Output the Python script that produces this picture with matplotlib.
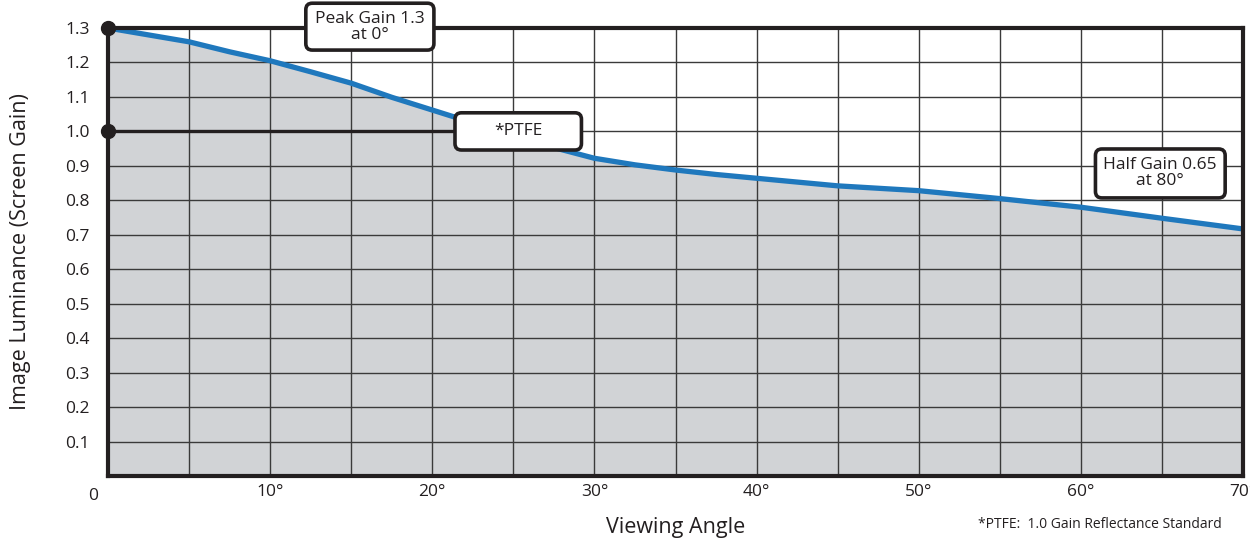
import matplotlib
matplotlib.use("Agg")
import matplotlib.pyplot as plt
from matplotlib.patches import FancyBboxPatch

plt.rcParams['font.family'] = ['Open Sans', 'DejaVu Sans']

# values
angle = [0, 2.5, 5, 7.5, 10, 12.5, 15, 17.5, 20, 22.5, 25, 27.5, 30, 32.5, 35, 37.5,
         40, 45, 50, 55, 60, 65, 70]
gain = [1.30, 1.28, 1.26, 1.231, 1.205, 1.173, 1.14, 1.099, 1.062, 1.025, 0.99, 0.953,
        0.922, 0.903, 0.888, 0.875, 0.864, 0.842, 0.828, 0.805, 0.78, 0.748, 0.717]
x_ticks = [10, 20, 30, 40, 50, 60, 70]
y_ticks = [0.1, 0.2, 0.3, 0.4, 0.5, 0.6, 0.7, 0.8, 0.9, 1.0, 1.1, 1.2, 1.3]

dark = '#231f20'
blue = '#1f78bd'
fill = '#d1d3d6'

fig = plt.figure(figsize=(12.5, 5.39), dpi=100)
ax = fig.add_axes([0.0864, 0.1169, 0.9080, 0.8311])

ax.fill_between(angle, gain, 0, color=fill, zorder=1, linewidth=0)
for v in range(5, 70, 5):
    ax.axvline(v, color='#3a3a3a', lw=1.0, zorder=2)
for v in y_ticks[:-1]:
    ax.axhline(v, color='#3a3a3a', lw=1.0, zorder=2)
ax.plot(angle, gain, color=blue, lw=3.8, zorder=3, solid_capstyle='butt',
        solid_joinstyle='round')

# PTFE reference line + markers
ax.plot([0, 21.5], [1.0, 1.0], color=dark, lw=2.4, zorder=4)
ax.plot([0, 0], [1.3, 1.0], 'o', color=dark, ms=10, zorder=6, clip_on=False)

ax.set_xlim(0, 70)
ax.set_ylim(0, 1.3)
for s in ax.spines.values():
    s.set_color(dark)
    s.set_linewidth(3)
    s.set_zorder(5)

ax.set_xticks(x_ticks)
ax.set_xticklabels([f"{t}\u00b0" for t in x_ticks])
ax.set_yticks(y_ticks)
ax.set_yticklabels([f"{t:.1f}" for t in y_ticks])
ax.tick_params(axis='both', length=0, labelsize=12.5, colors=dark)
ax.tick_params(axis='y', pad=13)
ax.tick_params(axis='x', pad=6)
ax.text(-0.6, -0.035, "0", ha='right', va='top', fontsize=12.5, color=dark)

ax.set_xlabel("Viewing Angle", fontsize=15.5, color=dark, labelpad=12)
ax.set_ylabel("Image Luminance (Screen Gain)", fontsize=15.5, color=dark, labelpad=25)
fig.text(0.977, 0.026, "*PTFE:  1.0 Gain Reflectance Standard", ha='right', va='center',
         fontsize=10, color=dark)

# callout boxes (x0, x1, y0, y1 in data units)
asp = (70 / 1135) / (1.3 / 448)


def callout(x0, x1, y0, y1, label):
    box = FancyBboxPatch((x0, y0), x1 - x0, y1 - y0,
                         boxstyle="round,pad=0,rounding_size=0.4",
                         mutation_aspect=1 / asp,
                         fc='white', ec=dark, lw=2.6, zorder=7, clip_on=False)
    ax.add_patch(box)
    ax.text((x0 + x1) / 2, (y0 + y1) / 2, label, ha='center', va='center',
            fontsize=12.5, color=dark, zorder=8, linespacing=1.0)


callout(12.2, 20.1, 1.236, 1.372, "Peak Gain 1.3\nat 0\u00b0")
callout(21.4, 29.2, 0.946, 1.054, "*PTFE")
callout(60.9, 68.9, 0.807, 0.949, "Half Gain 0.65\nat 80\u00b0")

fig.savefig("out.png", dpi=100)
